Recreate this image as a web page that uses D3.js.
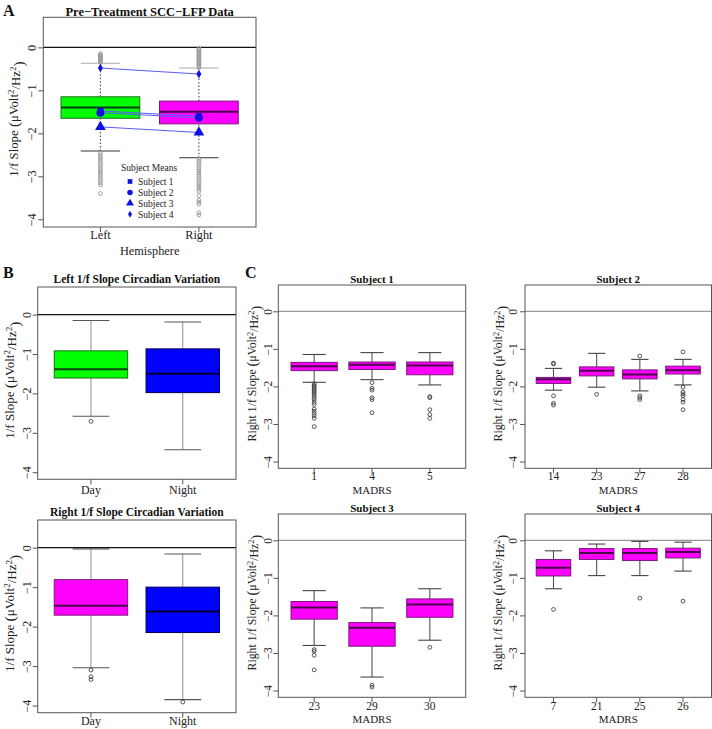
<!DOCTYPE html>
<html><head><meta charset="utf-8">
<script src="https://cdn.jsdelivr.net/npm/d3@7"></script>
<style>body{margin:0;background:#fff}</style>
</head><body>
<svg id="chart" width="712" height="729" font-family="Liberation Serif, Times New Roman, serif"></svg>
<script>
// ---------- DATA ----------
// stats per box: [lowerWhisker, Q1, median, Q3, upperWhisker]
const hemiCategories = ["Left", "Right"];
const hemiStats = [[-2.41, -1.65, -1.40, -1.15, -0.37], [-2.57, -1.78, -1.50, -1.25, -0.48]];
const hemiOutliersLeft = [-0.15,-0.17,-0.19,-0.21,-0.23,-0.25,-0.27,-0.29,-0.31,-0.33,-0.35,-2.45,-2.5,-2.55,-2.6,-2.65,-2.7,-2.75,-2.8,-2.85,-2.9,-2.95,-3.0,-3.05,-3.1,-3.15,-3.2,-3.4];
const hemiOutliersRight = [-0.02,-0.05,-0.08,-0.11,-0.14,-0.17,-0.2,-0.23,-0.26,-0.29,-0.32,-0.35,-0.38,-0.41,-0.44,-0.47,-2.6,-2.65,-2.7,-2.75,-2.8,-2.85,-2.9,-2.95,-3.0,-3.05,-3.1,-3.15,-3.2,-3.25,-3.3,-3.35,-3.45,-3.55,-3.6,-3.65,-3.85,-3.9];
const subjectNames = ["Subject 1", "Subject 2", "Subject 3", "Subject 4"];
const subjectMeansLeft = [-1.48, -1.52, -1.85, -0.48];
const subjectMeansRight = [-1.60, -1.64, -1.98, -0.62];

const circadianCategories = ["Day", "Night"];
const leftCircStats = [[-2.58, -1.61, -1.39, -0.92, -0.15], [-3.43, -1.98, -1.50, -0.87, -0.19]];
const leftCircOutliers = [[-2.71], []];
const rightCircStats = [[-3.04, -1.71, -1.47, -0.81, -0.03], [-3.85, -2.15, -1.62, -1.00, -0.16]];
const rightCircOutliers = [[-3.10, -3.27, -3.34], [-3.91]];

const s1Madrs = ["1", "4", "5"];
const s1Stats = [[-1.89, -1.58, -1.46, -1.36, -1.15], [-1.82, -1.55, -1.42, -1.35, -1.10], [-1.96, -1.69, -1.44, -1.35, -1.10]];
const s1Outliers = [[-1.93,-1.97,-2.0,-2.04,-2.08,-2.12,-2.16,-2.2,-2.25,-2.3,-2.35,-2.42,-2.48,-2.6,-2.66,-2.72,-2.78,-2.85,-3.07], [-1.9,-2.05,-2.1,-2.3,-2.35,-2.7], [-2.27,-2.3,-2.62,-2.75,-2.85]];
const s2Madrs = ["14", "23", "27", "28"];
const s2Stats = [[-2.10, -1.92, -1.81, -1.76, -1.52], [-2.02, -1.72, -1.58, -1.48, -1.12], [-2.12, -1.80, -1.68, -1.56, -1.28], [-1.96, -1.67, -1.57, -1.46, -1.28]];
const s2Outliers = [[-1.38, -1.40, -2.25, -2.45, -2.5], [-2.21], [-1.19, -2.25, -2.3, -2.35], [-1.08, -2.02, -2.15, -2.2, -2.25, -2.35, -2.42, -2.62]];
const s3Madrs = ["23", "29", "30"];
const s3Stats = [[-2.80, -2.10, -1.79, -1.63, -1.34], [-3.64, -2.82, -2.33, -2.19, -1.80], [-2.66, -2.05, -1.71, -1.56, -1.29]];
const s3Outliers = [[-2.91, -2.95, -3.06, -3.45], [-3.86, -3.91], [-2.85]];
const s4Madrs = ["7", "21", "25", "26"];
const s4Stats = [[-1.29, -0.95, -0.73, -0.51, -0.28], [-0.94, -0.51, -0.34, -0.22, -0.10], [-0.94, -0.54, -0.34, -0.22, -0.03], [-0.82, -0.47, -0.31, -0.21, -0.05]];
const s4Outliers = [[-1.84], [], [-1.54], [-1.62]];

const yTicks = [-4, -3, -2, -1, 0];

// ---------- DRAW ----------
const svg = d3.select("#chart");
const FONT = "Liberation Serif, Times New Roman, serif";
const GREEN = {fill: "#00ff00", stroke: "#1f6f1f", med: "#0b3d0b"};
const MAGENTA = {fill: "#ff00ff", stroke: "#7a1a7a", med: "#4a0a4a"};
const BLUE = {fill: "#0000ff", stroke: "#00005a", med: "#000030"};
const fmt = d => d === 0 ? "0" : "\u2212" + Math.abs(d);

function ylabel(g, x, yc, prefix, size) {
  const t = g.append("text").attr("transform", `translate(${x},${yc}) rotate(-90)`)
    .attr("text-anchor", "middle").attr("dy", "0.35em").attr("font-size", size).attr("fill", "#222");
  t.append("tspan").text(prefix + "Slope ");
  t.append("tspan").text("(").attr("font-size", size * 1.2).attr("dy", "0.06em");
  t.append("tspan").text("\u03bcVolt").attr("dy", "-0.06em");
  t.append("tspan").text("2").attr("font-size", size * 0.7).attr("dy", "-0.45em");
  t.append("tspan").text("/Hz").attr("dy", "0.45em");
  t.append("tspan").text("2").attr("font-size", size * 0.7).attr("dy", "-0.45em");
  t.append("tspan").text(")").attr("font-size", size * 1.2).attr("dy", "0.51em");
}

function panel(o) {
  const g = svg.append("g");
  const n = o.cats.length;
  const x = d3.scaleLinear().domain([0.5 - 0.04 * n, n + 0.5 + 0.04 * n]).range([o.left, o.right]);
  const y = d3.scaleLinear().domain([-4.18, 0.7]).range([o.bottom, o.top]);
  const bw = (x(1) - x(0)) * 0.8;
  const fs = o.fs || 12;

  g.append("line").attr("x1", o.left).attr("x2", o.right).attr("y1", y(0)).attr("y2", y(0))
    .attr("stroke", o.zeroColor).attr("stroke-width", 1.2);

  o.cats.forEach((c, i) => {
    const s = o.stats[i], cx = x(i + 1), col = o.colors[i];
    [[s[0], s[1]], [s[3], s[4]]].forEach(([a, b]) => {
      g.append("line").attr("x1", cx).attr("x2", cx).attr("y1", y(a)).attr("y2", y(b))
        .attr("stroke", o.whiskerColor).attr("stroke-width", 1.1)
        .attr("stroke-dasharray", o.whiskerDash || null);
    });
    [[s[0], o.lowCap], [s[4], o.highCap]].forEach(([v, cc]) => {
      g.append("line").attr("x1", cx - bw / 4).attr("x2", cx + bw / 4).attr("y1", y(v)).attr("y2", y(v))
        .attr("stroke", cc).attr("stroke-width", 1.1);
    });
    (o.outliers[i] || []).forEach(v => {
      g.append("circle").attr("cx", cx).attr("cy", y(v)).attr("r", 1.9)
        .attr("fill", "none").attr("stroke", o.outColor).attr("stroke-width", 0.9);
    });
    g.append("rect").attr("x", cx - bw / 2).attr("width", bw).attr("y", y(s[3])).attr("height", y(s[1]) - y(s[3]))
      .attr("fill", col.fill).attr("stroke", col.stroke).attr("stroke-width", 1);
    g.append("line").attr("x1", cx - bw / 2).attr("x2", cx + bw / 2).attr("y1", y(s[2])).attr("y2", y(s[2]))
      .attr("stroke", col.med).attr("stroke-width", 2);
    g.append("line").attr("x1", cx).attr("x2", cx).attr("y1", o.bottom).attr("y2", o.bottom + 5).attr("stroke", "#555");
    g.append("text").attr("x", cx).attr("y", o.xtickY).attr("dy", "0.35em").attr("text-anchor", "middle")
      .attr("font-size", fs).attr("fill", "#222").text(c);
  });

  g.append("rect").attr("x", o.left).attr("y", o.top).attr("width", o.right - o.left).attr("height", o.bottom - o.top)
    .attr("fill", "none").attr("stroke", "#555").attr("stroke-width", 1);

  const ax = g.append("g").attr("transform", `translate(${o.left},0)`)
    .call(d3.axisLeft(y).tickValues(yTicks).tickSize(5).tickFormat(fmt));
  ax.attr("font-family", FONT);
  ax.select(".domain").remove();
  ax.selectAll("line").attr("stroke", "#555");
  ax.selectAll("text").attr("x", null).attr("text-anchor", "middle")
    .attr("transform", `translate(${o.ytickX - o.left},0) rotate(-90)`).attr("dy", "0.35em")
    .attr("font-size", fs).attr("fill", "#222");

  ylabel(g, o.ylabelX, (o.top + o.bottom) / 2 - 3, o.yPrefix, o.ylabSize);

  if (o.title) g.append("text").attr("x", (o.left + o.right) / 2).attr("y", o.titleY).attr("dy", "0.35em")
    .attr("text-anchor", "middle").attr("font-weight", "bold").attr("font-size", o.titleSize).attr("fill", "#111").text(o.title);
  if (o.xTitle) g.append("text").attr("x", (o.left + o.right) / 2).attr("y", o.xTitleY).attr("dy", "0.35em")
    .attr("text-anchor", "middle").attr("font-size", o.xTitleSize || fs).attr("fill", "#222").text(o.xTitle);
  return {g, x, y};
}

// Panel A
const A = panel({left: 43.3, right: 256, top: 17.3, bottom: 227, cats: hemiCategories, stats: hemiStats,
  outliers: [hemiOutliersLeft, hemiOutliersRight], colors: [GREEN, MAGENTA], zeroColor: "#111",
  whiskerColor: "#444", whiskerDash: "1.5,2", lowCap: "#333", highCap: "#aaa", outColor: "#999",
  xtickY: 235, xTitle: "Hemisphere", xTitleY: 251, ytickX: 32, ylabelX: 13.5, yPrefix: "1/f  ", ylabSize: 12.8,
  title: "Pre\u2212Treatment SCC\u2212LFP Data", titleY: 12, fs: 12.3, titleSize: 12.5});

const symTypes = [d3.symbolSquare, d3.symbolCircle, d3.symbolTriangle, d3.symbolDiamond];
const symSizes = [36, 50, 50, 22];
subjectNames.forEach((s, i) => {
  A.g.append("line").attr("x1", A.x(1)).attr("x2", A.x(2)).attr("y1", A.y(subjectMeansLeft[i])).attr("y2", A.y(subjectMeansRight[i]))
    .attr("stroke", "#5b5bf0").attr("stroke-width", 1);
});
subjectNames.forEach((s, i) => {
  [[1, subjectMeansLeft[i]], [2, subjectMeansRight[i]]].forEach(([k, v]) => {
    A.g.append("path").attr("d", d3.symbol().type(symTypes[i]).size(symSizes[i]))
      .attr("transform", `translate(${A.x(k)},${A.y(v)})`).attr("fill", "#1010e0");
  });
});
const lg = A.g.append("g");
lg.append("text").attr("x", 149).attr("y", 168).attr("dy", "0.35em").attr("text-anchor", "middle")
  .attr("font-size", 9.5).attr("fill", "#222").text("Subject Means");
subjectNames.forEach((s, i) => {
  const yy = 181.5 + i * 10.9;
  lg.append("path").attr("d", d3.symbol().type(symTypes[i]).size([22, 24, 28, 14][i]))
    .attr("transform", `translate(130,${yy})`).attr("fill", "#1010e0");
  lg.append("text").attr("x", 138).attr("y", yy).attr("dy", "0.35em").attr("font-size", 9.5).attr("fill", "#222").text(s);
});

// Panel B
panel({left: 37.7, right: 236, top: 287, bottom: 479.3, cats: circadianCategories, stats: leftCircStats,
  outliers: leftCircOutliers, colors: [GREEN, BLUE], zeroColor: "#111", whiskerColor: "#999",
  lowCap: "#555", highCap: "#555", outColor: "#444", xtickY: 489.5, ytickX: 27, ylabelX: 9.5, yPrefix: "1/f  ", ylabSize: 13,
  title: "Left 1/f Slope Circadian Variation", titleY: 279, fs: 12, titleSize: 11.5});
panel({left: 37.7, right: 236, top: 520, bottom: 712.7, cats: circadianCategories, stats: rightCircStats,
  outliers: rightCircOutliers, colors: [MAGENTA, BLUE], zeroColor: "#111", whiskerColor: "#999",
  lowCap: "#555", highCap: "#555", outColor: "#444", xtickY: 721, ytickX: 27, ylabelX: 9.5, yPrefix: "1/f  ", ylabSize: 13,
  title: "Right 1/f Slope Circadian Variation", titleY: 512, fs: 12, titleSize: 11.5});

// Panel C
const cCommon = {zeroColor: "#999", whiskerColor: "#555", lowCap: "#444", highCap: "#444", outColor: "#444",
  yPrefix: "Right 1/f  ", ylabSize: 11.8, xTitle: "MADRS", fs: 11.5, xTitleSize: 11, titleSize: 11};
panel(Object.assign({}, cCommon, {left: 278.3, right: 465.7, top: 285, bottom: 468.3, cats: s1Madrs, stats: s1Stats,
  outliers: s1Outliers, colors: s1Madrs.map(() => MAGENTA), xtickY: 476, xTitleY: 490, ytickX: 268, ylabelX: 252,
  title: "Subject 1", titleY: 279}));
panel(Object.assign({}, cCommon, {left: 525, right: 711.5, top: 285, bottom: 468.3, cats: s2Madrs, stats: s2Stats,
  outliers: s2Outliers, colors: s2Madrs.map(() => MAGENTA), xtickY: 476, xTitleY: 490, ytickX: 513.3, ylabelX: 498,
  title: "Subject 2", titleY: 279}));
panel(Object.assign({}, cCommon, {left: 278.3, right: 465.7, top: 514, bottom: 697.3, cats: s3Madrs, stats: s3Stats,
  outliers: s3Outliers, colors: s3Madrs.map(() => MAGENTA), xtickY: 706, xTitleY: 719, ytickX: 268, ylabelX: 252,
  title: "Subject 3", titleY: 508}));
panel(Object.assign({}, cCommon, {left: 525, right: 711.5, top: 514, bottom: 697.3, cats: s4Madrs, stats: s4Stats,
  outliers: s4Outliers, colors: s4Madrs.map(() => MAGENTA), xtickY: 706, xTitleY: 719, ytickX: 513.3, ylabelX: 498,
  title: "Subject 4", titleY: 508}));

[["A", 3, 10], ["B", 3, 272], ["C", 245, 272]].forEach(([t, x, y]) => {
  svg.append("text").attr("x", x).attr("y", y).attr("dy", "0.35em").attr("font-weight", "bold")
    .attr("font-size", 16).attr("fill", "#111").text(t);
});
</script>
</body></html>
